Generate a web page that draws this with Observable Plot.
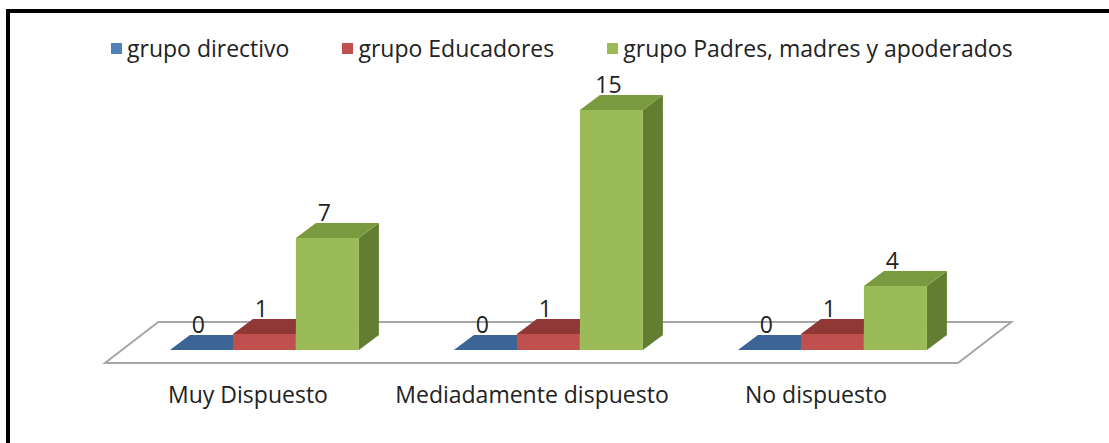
<!DOCTYPE html>
<html>
<head>
<meta charset="utf-8">
<script src="https://cdn.jsdelivr.net/npm/d3@7"></script>
<script src="https://cdn.jsdelivr.net/npm/@observablehq/plot@0.6"></script>
<style>
  body { margin: 0; background: #fff; font-family: "Open Sans", sans-serif; }
  #page { position: relative; width: 1109px; height: 443px; overflow: hidden; background: #fff; }
  #frame { position: absolute; left: 6px; top: 9px; width: 1110px; height: 450px;
           border-top: 4px solid #000; border-left: 4px solid #000; box-sizing: border-box; }
  #legend { position: absolute; left: 111px; top: 33px; display: flex; gap: 53px;
            font-size: 23px; color: #222; line-height: 30px; white-space: nowrap; }
  .item { display: flex; align-items: center; }
  .sw { width: 11px; height: 11px; margin-right: 5px; }
  #chart { position: absolute; left: 0; top: 75px; }
</style>
</head>
<body>
<div id="page">
  <div id="frame"></div>
  <div id="legend"></div>
  <div id="chart"></div>
</div>
<script>
// ---- data ----
const categories = ["Muy Dispuesto", "Mediadamente dispuesto", "No dispuesto"];
const seriesNames = ["grupo directivo", "grupo Educadores", "grupo Padres, madres y apoderados"];
const directivo = [0, 0, 0];
const educadores = [1, 1, 1];
const padres = [7, 15, 4];
const seriesValues = [directivo, educadores, padres];

// ---- styles ----
const frontColors = ["#4f81bd", "#c0504d", "#9bbb59"];
const topColors   = ["#3b6497", "#8f3836", "#7a9a40"];
const sideColors  = ["#2f5282", "#7a2d2b", "#637e31"];

const data = [];
categories.forEach((c, ci) => seriesNames.forEach((s, si) =>
  data.push({category: c, series: s, si, value: seriesValues[si][ci]})));

// legend
const legend = document.getElementById("legend");
seriesNames.forEach((s, i) => {
  const it = document.createElement("div");
  it.className = "item";
  it.innerHTML = `<span class="sw" style="background:${frontColors[i]}"></span><span>${s}</span>`;
  legend.appendChild(it);
});

const DX = 20, DY = 15;        // bar depth projection
const FRONT = 13, BACK = 28;   // floor extent in front / behind the bar base
const RATIO = 1.3;             // horizontal shift per vertical px of depth

function bw(x) { return typeof x.bandwidth === "function" ? x.bandwidth() : x.bandwidth; }

function floorRender(index, scales, values, dims) {
  const {y} = scales;
  const x0 = dims.marginLeft, x1 = dims.width - dims.marginRight;
  const yf = y(0) + FRONT, yb = y(0) - BACK;
  const sh = (FRONT + BACK) * RATIO;
  const g = d3.create("svg:g");
  g.append("polygon")
    .attr("points", [[x0, yf], [x1, yf], [x1 + sh, yb], [x0 + sh, yb]].map(p => p.join(",")).join(" "))
    .attr("fill", "#fff").attr("stroke", "#a6a6a6").attr("stroke-width", 2);
  return g.node();
}

function bars3d(index, scales) {
  const {x, y} = scales;
  const w = bw(x) / seriesNames.length;
  const shift = FRONT * RATIO;
  const g = d3.create("svg:g");
  for (const i of index) {
    const d = data[i];
    const bx = x(d.category) + shift + d.si * w;
    const y0 = y(0), yt = y(d.value);
    const pts = a => a.map(p => p.join(",")).join(" ");
    g.append("polygon").attr("fill", sideColors[d.si])
      .attr("points", pts([[bx + w, yt], [bx + w + DX, yt - DY], [bx + w + DX, y0 - DY], [bx + w, y0]]));
    g.append("polygon").attr("fill", topColors[d.si])
      .attr("points", pts([[bx, yt], [bx + w, yt], [bx + w + DX, yt - DY], [bx + DX, yt - DY]]));
    if (y0 - yt > 0)
      g.append("rect").attr("fill", frontColors[d.si])
        .attr("x", bx).attr("y", yt).attr("width", w).attr("height", y0 - yt);
  }
  for (const i of index) {
    const d = data[i];
    const bx = x(d.category) + shift + d.si * w;
    g.append("text")
      .attr("x", bx + w / 2 - 3).attr("y", y(d.value) - DY - 11)
      .attr("text-anchor", "middle").attr("dominant-baseline", "central")
      .attr("fill", "#222").attr("font-size", 23)
      .text(d.value);
  }
  return g.node();
}

const chart = Plot.plot({
  width: 1109,
  height: 368,
  marginLeft: 105,
  marginRight: 151,
  marginTop: 35,
  marginBottom: 93,
  style: {fontFamily: "Open Sans", fontSize: "23px", color: "#222", background: "transparent", overflow: "visible"},
  x: {domain: categories, paddingInner: 0.335, paddingOuter: 0.1675, align: 0.5, label: null},
  y: {domain: [0, 15], axis: null},
  marks: [
    Plot.barY(data.slice(0, 1), {x: "category", y: "value", render: floorRender}),
    Plot.barY(data, {x: "category", y: "value", render: bars3d}),
    Plot.axisX({tickSize: 0, tickPadding: 36, label: null, fill: "#222"})
  ]
});
document.getElementById("chart").appendChild(chart);
</script>
</body>
</html>
